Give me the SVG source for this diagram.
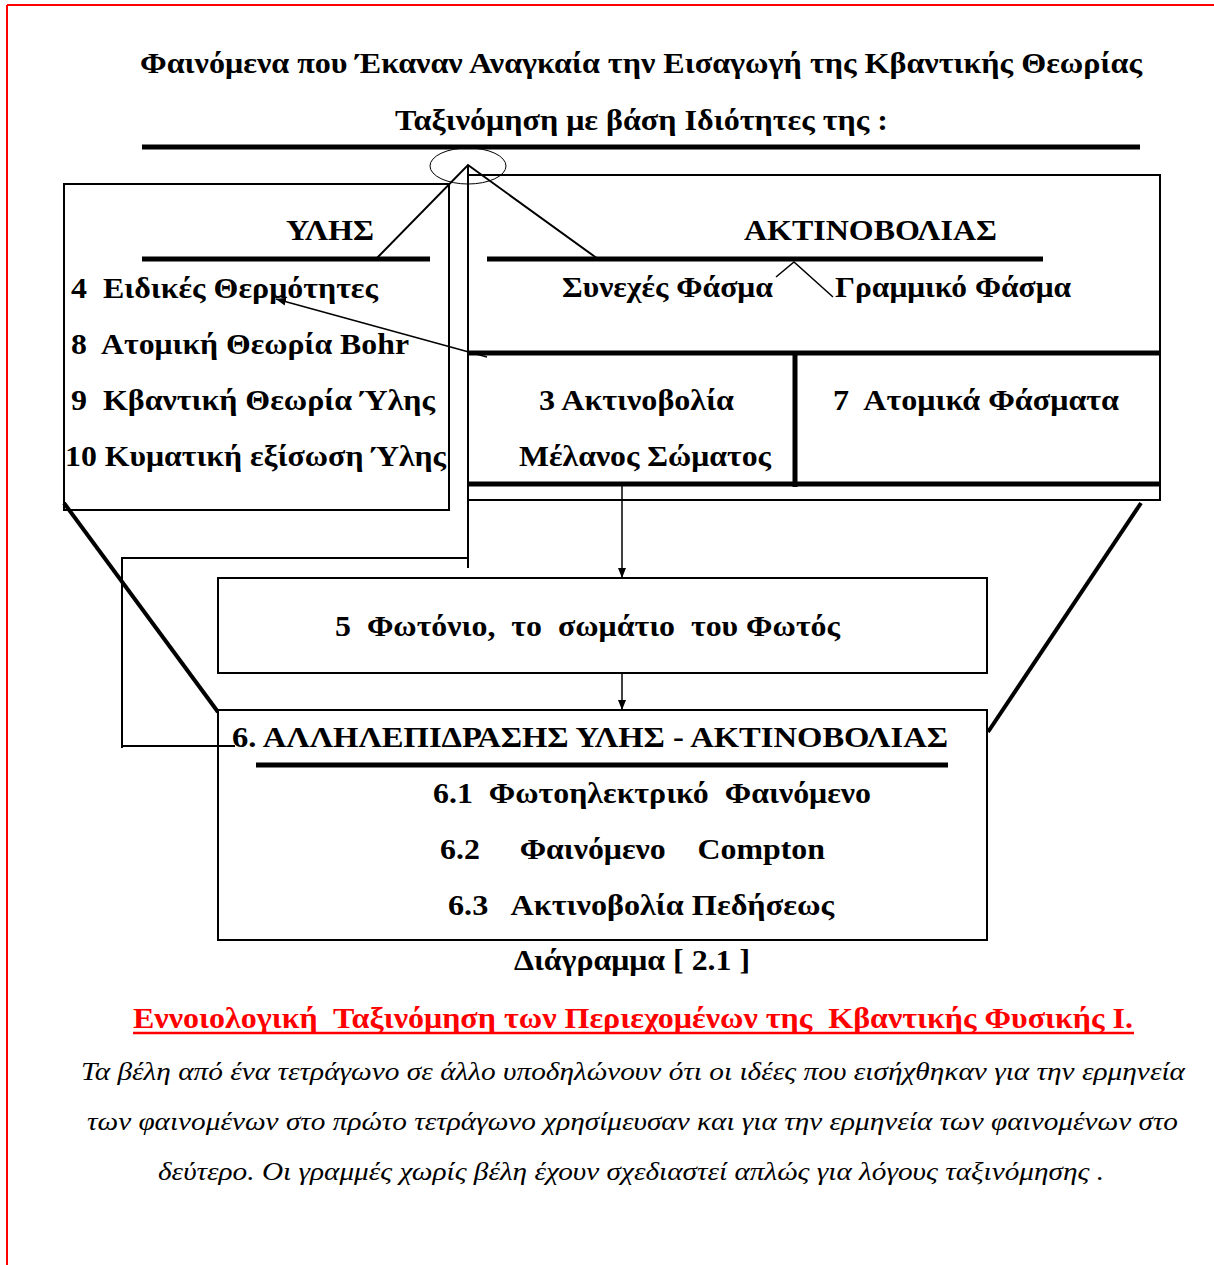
<svg xmlns="http://www.w3.org/2000/svg" width="1214" height="1265" viewBox="0 0 1214 1265">
<defs>
<style>
.b{font-family:"Liberation Serif","Times New Roman",serif;font-weight:bold;font-size:29px;fill:#000;white-space:pre}
.i{font-family:"Liberation Serif","Times New Roman",serif;font-style:italic;font-size:26px;fill:#000;white-space:pre}
.r{font-family:"Liberation Serif","Times New Roman",serif;font-weight:bold;font-size:29px;fill:#f00;white-space:pre}
.box{fill:none;stroke:#000;stroke-width:2}
.thin{fill:none;stroke:#000;stroke-width:1.5}
.thick{fill:none;stroke:#000;stroke-width:5}
.diag{fill:none;stroke:#000;stroke-width:4}
</style>
<marker id="ah" viewBox="0 0 10 10" refX="10" refY="5" markerWidth="10" markerHeight="10" markerUnits="userSpaceOnUse" orient="auto">
<path d="M0,1 L10,5 L0,9 Z" fill="#000"/>
</marker>
</defs>
<rect width="1214" height="1265" fill="#fff"/>
<g id="page-border">
<line x1="7" y1="5" x2="1214" y2="5" stroke="#f00" stroke-width="2"/>
<line x1="7" y1="5" x2="7" y2="1265" stroke="#f00" stroke-width="2"/>
</g>
<g id="title" xml:space="preserve">
<text class="b" x="140" y="73" textLength="1002" lengthAdjust="spacingAndGlyphs">Φαινόμενα που Έκαναν Αναγκαία την Εισαγωγή της Κβαντικής Θεωρίας</text>
<text class="b" x="395" y="130" textLength="493" lengthAdjust="spacingAndGlyphs">Ταξινόμηση με βάση Ιδιότητες της :</text>
<line class="thick" x1="142" y1="147" x2="1140" y2="147"/>
<ellipse cx="468" cy="166" rx="38" ry="18" fill="none" stroke="#000" stroke-width="1"/>
</g>
<g id="node-yles" xml:space="preserve">
<rect class="box" x="64" y="184" width="385" height="326"/>
<text class="b" x="286" y="240" textLength="88" lengthAdjust="spacingAndGlyphs">ΥΛΗΣ</text>
<line class="thick" x1="142" y1="259" x2="430" y2="259"/>
<text class="b" x="71" y="298" textLength="307" lengthAdjust="spacingAndGlyphs">4  Ειδικές Θερμότητες</text>
<text class="b" x="71" y="354" textLength="338" lengthAdjust="spacingAndGlyphs">8  Ατομική Θεωρία Bohr</text>
<text class="b" x="71" y="410" textLength="364" lengthAdjust="spacingAndGlyphs">9  Κβαντική Θεωρία Ύλης</text>
<text class="b" x="65" y="466" textLength="381" lengthAdjust="spacingAndGlyphs">10 Κυματική εξίσωση Ύλης</text>
</g>
<g id="node-aktinovolias" xml:space="preserve">
<rect class="box" x="468" y="175" width="692" height="325"/>
<text class="b" x="744" y="240" textLength="253" lengthAdjust="spacingAndGlyphs">ΑΚΤΙΝΟΒΟΛΙΑΣ</text>
<line class="thick" x1="487" y1="259" x2="1043" y2="259"/>
<text class="b" x="562" y="297" textLength="211" lengthAdjust="spacingAndGlyphs">Συνεχές Φάσμα</text>
<text class="b" x="835" y="297" textLength="236" lengthAdjust="spacingAndGlyphs">Γραμμικό Φάσμα</text>
<line class="thick" x1="468" y1="353" x2="1160" y2="353"/>
<line class="thick" x1="468" y1="484" x2="1160" y2="484"/>
<line class="thick" x1="795" y1="353" x2="795" y2="487"/>
</g>
<g id="node-3">
<text class="b" x="539" y="410" textLength="195" lengthAdjust="spacingAndGlyphs">3 Ακτινοβολία</text>
<text class="b" x="519" y="466" textLength="252" lengthAdjust="spacingAndGlyphs">Μέλανος Σώματος</text>
</g>
<g id="node-7" xml:space="preserve">
<text class="b" x="833" y="410" textLength="286" lengthAdjust="spacingAndGlyphs">7  Ατομικά Φάσματα</text>
</g>
<g id="node-5" xml:space="preserve">
<rect class="box" x="218" y="578" width="769" height="95"/>
<text class="b" x="335" y="636" textLength="505" lengthAdjust="spacingAndGlyphs">5  Φωτόνιο,  το  σωμάτιο  του Φωτός</text>
</g>
<g id="node-6" xml:space="preserve">
<rect class="box" x="218" y="710" width="769" height="230"/>
<text class="b" x="232" y="747" textLength="716" lengthAdjust="spacingAndGlyphs">6. ΑΛΛΗΛΕΠΙΔΡΑΣΗΣ ΥΛΗΣ - ΑΚΤΙΝΟΒΟΛΙΑΣ</text>
<line class="thick" x1="256" y1="765" x2="948" y2="765"/>
<text class="b" x="433" y="803" textLength="438" lengthAdjust="spacingAndGlyphs">6.1  Φωτοηλεκτρικό  Φαινόμενο</text>
<text class="b" x="440" y="859" textLength="385" lengthAdjust="spacingAndGlyphs">6.2     Φαινόμενο    Compton</text>
<text class="b" x="448" y="915" textLength="386" lengthAdjust="spacingAndGlyphs">6.3   Ακτινοβολία Πεδήσεως</text>
</g>
<g id="connectors">
<polyline class="box" points="376,259 468,165 598,259"/>
<polyline class="thin" points="776,277 794,262 833,297"/>
<line class="box" x1="468" y1="165" x2="468" y2="568"/>
<polyline class="box" points="467,558 122,558 122,748"/>
<line class="box" x1="122" y1="746" x2="235" y2="746"/>
<line class="diag" x1="64" y1="503" x2="218" y2="712"/>
<line class="diag" x1="1141" y1="503" x2="988" y2="732"/>
<line x1="487" y1="357" x2="276" y2="299" stroke="#000" stroke-width="1.5" marker-end="url(#ah)"/>
<line x1="622" y1="484" x2="622" y2="578" stroke="#000" stroke-width="1.5" marker-end="url(#ah)"/>
<line x1="622" y1="673" x2="622" y2="710" stroke="#000" stroke-width="1.5" marker-end="url(#ah)"/>
</g>
<g id="caption" xml:space="preserve">
<text class="b" x="514" y="970" textLength="236" lengthAdjust="spacingAndGlyphs">Διάγραμμα [ 2.1 ]</text>
<text class="r" x="133" y="1028" textLength="1000" lengthAdjust="spacingAndGlyphs">Εννοιολογική  Ταξινόμηση των Περιεχομένων της  Κβαντικής Φυσικής Ι.</text>
<line x1="133" y1="1033" x2="1134" y2="1033" stroke="#f00" stroke-width="2.5"/>
<text class="i" x="81" y="1080" textLength="1104" lengthAdjust="spacingAndGlyphs">Τα βέλη από ένα τετράγωνο σε άλλο υποδηλώνουν ότι οι ιδέες που εισήχθηκαν για την ερμηνεία</text>
<text class="i" x="87" y="1130" textLength="1091" lengthAdjust="spacingAndGlyphs">των φαινομένων στο πρώτο τετράγωνο χρησίμευσαν και για την ερμηνεία των φαινομένων στο</text>
<text class="i" x="158" y="1180" textLength="946" lengthAdjust="spacingAndGlyphs">δεύτερο. Οι γραμμές χωρίς βέλη έχουν σχεδιαστεί απλώς για λόγους ταξινόμησης .</text>
</g>
</svg>
